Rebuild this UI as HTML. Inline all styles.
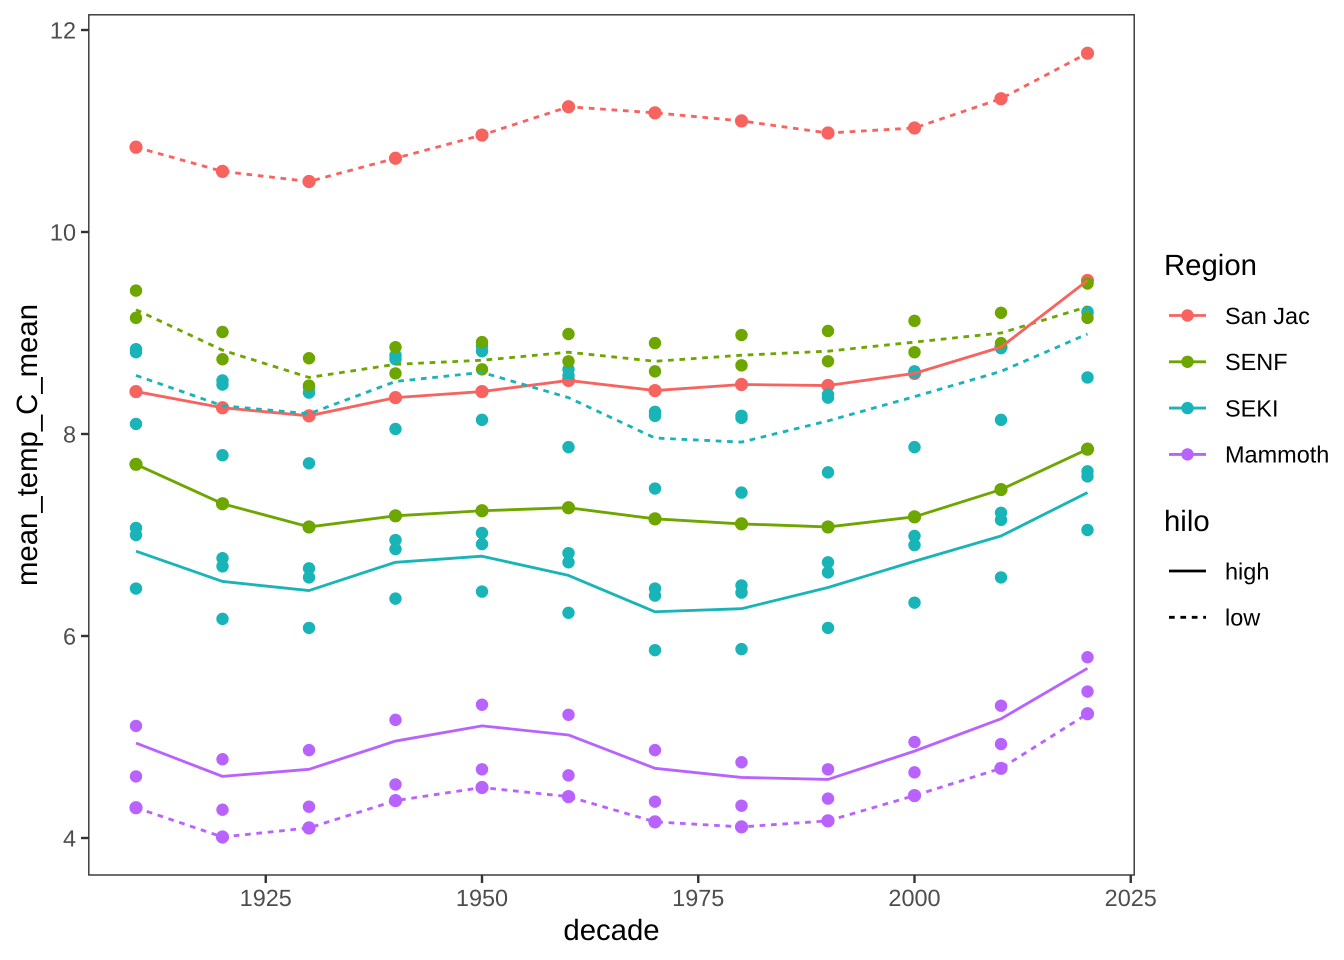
<!DOCTYPE html>
<html lang="en">
<head>
<meta charset="utf-8">
<title>mean_temp_C_mean by decade</title>
<style>
  html, body { margin: 0; padding: 0; background: #fff; }
  svg { display: block; font-family: "Liberation Sans", Arial, sans-serif; text-rendering: geometricPrecision; }
</style>
</head>
<body>
<svg id="chart" xmlns="http://www.w3.org/2000/svg" width="1344" height="960" viewBox="0 0 1344 960">
  <rect x="0" y="0" width="1344" height="960" fill="#ffffff"/>
  <g id="ticks"></g>
  <g id="marks"></g>
  <rect x="88.8" y="14.8" width="1045.4" height="860.2" fill="none" stroke="#333333" stroke-width="1.42"/>
  <text x="611.5" y="940" font-size="29.33" text-anchor="middle" fill="#000">decade</text>
  <text transform="translate(37 445) rotate(-90)" font-size="29.33" text-anchor="middle" fill="#000">mean_temp_C_mean</text>
  <g id="legend">
    <text x="1164" y="275" font-size="29.33" fill="#000">Region</text>
    <text x="1164" y="531" font-size="29.33" fill="#000">hilo</text>
  </g>
</svg>
<script>
const SVGNS = 'http://www.w3.org/2000/svg';

// ---- data ----
const decades = [1910,1920,1930,1940,1950,1960,1970,1980,1990,2000,2010,2020];
const xTicks = [1925,1950,1975,2000,2025];
const yTicks = [4,6,8,10,12];
const regions = ['San Jac','SENF','SEKI','Mammoth'];
const hiloLabels = ['high','low'];

const sanJacHigh = [8.42,8.26,8.18,8.36,8.42,8.53,8.43,8.49,8.48,8.60,8.86,9.52];
const sanJacLow  = [10.84,10.60,10.50,10.73,10.96,11.24,11.18,11.10,10.98,11.03,11.32,11.77];

const senfHigh    = [7.70,7.31,7.08,7.19,7.24,7.27,7.16,7.11,7.08,7.18,7.45,7.85];
const senfLowMean = [9.23,8.83,8.56,8.69,8.73,8.81,8.72,8.78,8.82,8.91,9.00,9.26];
const senfPointsA = [9.42,9.01,8.75,8.86,8.91,8.99,8.90,8.98,9.02,9.12,9.20,9.49];
const senfPointsB = [9.15,8.74,8.48,8.60,8.64,8.72,8.62,8.68,8.72,8.81,8.90,9.15];

const sekiHighMean = [6.84,6.54,6.45,6.73,6.79,6.60,6.24,6.27,6.48,6.74,6.99,7.42];
const sekiLowMean  = [8.58,8.28,8.20,8.52,8.61,8.36,7.96,7.92,8.13,8.37,8.62,8.99];
const sekiPointsA = [8.84,8.53,8.46,8.78,8.87,8.64,8.22,8.18,8.39,8.62,8.86,9.21];
const sekiPointsB = [8.81,8.49,8.41,8.74,8.82,8.58,8.18,8.16,8.36,8.61,8.85,9.20];
const sekiPointsC = [8.10,7.79,7.71,8.05,8.14,7.87,7.46,7.42,7.62,7.87,8.14,8.56];
const sekiPointsD = [7.07,6.77,6.67,6.95,7.02,6.82,6.47,6.50,6.73,6.99,7.22,7.63];
const sekiPointsE = [7.00,6.69,6.58,6.86,6.91,6.73,6.40,6.43,6.63,6.90,7.15,7.58];
const sekiPointsF = [6.47,6.17,6.08,6.37,6.44,6.23,5.86,5.87,6.08,6.33,6.58,7.05];

const mammothHighMean = [4.94,4.61,4.68,4.96,5.11,5.02,4.69,4.60,4.58,4.86,5.18,5.68];
const mammothLow      = [4.30,4.01,4.10,4.37,4.50,4.41,4.16,4.11,4.17,4.42,4.69,5.23];
const mammothPointsA  = [5.11,4.78,4.87,5.17,5.32,5.22,4.87,4.75,4.68,4.95,5.31,5.79];
const mammothPointsB  = [4.61,4.28,4.31,4.53,4.68,4.62,4.36,4.32,4.39,4.65,4.93,5.45];

// ---- scales ----
function xScale(v) { return 136 + (v - 1910) * 8.65; }
function yScale(v) { return 838 - (v - 4) * 101; }

const RED = '#F7635F', GREEN = '#6EA600', TEAL = '#18B4B8', PURPLE = '#B963FF';
const marks = document.getElementById('marks');
const ticks = document.getElementById('ticks');
const legend = document.getElementById('legend');

function drawPoints(values, color, r) {
  values.forEach(function (v, i) {
    const c = document.createElementNS(SVGNS, 'circle');
    
    
    c.setAttribute('cx', xScale(decades[i]));
    c.setAttribute('cy', yScale(v));
    c.setAttribute('r', r);
    c.setAttribute('fill', color);
    marks.appendChild(c);
  });
}

function drawLine(values, color, dashed) {
  const p = document.createElementNS(SVGNS, 'polyline');
  
  
  p.setAttribute('points', values.map(function (v, i) { return xScale(decades[i]) + ',' + yScale(v); }).join(' '));
  p.setAttribute('fill', 'none');
  p.setAttribute('stroke', color);
  p.setAttribute('stroke-width', '2.85');
  p.setAttribute('stroke-linejoin', 'round');
  if (dashed) p.setAttribute('stroke-dasharray', '5.7 5.7');
  marks.appendChild(p);
}

// ---- points (underneath the lines) ----
drawPoints(sanJacHigh, RED, 6.6);
drawPoints(sanJacLow, RED, 6.6);
[sekiPointsA, sekiPointsB, sekiPointsC, sekiPointsD, sekiPointsE, sekiPointsF].forEach(function (s) { drawPoints(s, TEAL, 6.2); });
[senfPointsA, senfPointsB].forEach(function (s) { drawPoints(s, GREEN, 6.2); });
drawPoints(senfHigh, GREEN, 6.6);
[mammothPointsA, mammothPointsB].forEach(function (s) { drawPoints(s, PURPLE, 6.2); });
drawPoints(mammothLow, PURPLE, 6.6);

// ---- lines ----
drawLine(sanJacLow, RED, true);
drawLine(senfLowMean, GREEN, true);
drawLine(senfHigh, GREEN, false);
drawLine(sanJacHigh, RED, false);
drawLine(sekiLowMean, TEAL, true);
drawLine(sekiHighMean, TEAL, false);
drawLine(mammothLow, PURPLE, true);
drawLine(mammothHighMean, PURPLE, false);

// ---- axes ----
xTicks.forEach(function (t) {
  const x = xScale(t);
  const m = document.createElementNS(SVGNS, 'line');
  
  
  m.setAttribute('x1', x); m.setAttribute('x2', x);
  m.setAttribute('y1', 875); m.setAttribute('y2', 883);
  m.setAttribute('stroke', '#333333'); m.setAttribute('stroke-width', '2.4');
  ticks.appendChild(m);
  const l = document.createElementNS(SVGNS, 'text');
  
  
  l.setAttribute('x', x); l.setAttribute('y', 906);
  l.setAttribute('font-size', '23.47');
  l.setAttribute('text-anchor', 'middle');
  l.setAttribute('fill', '#4D4D4D');
  l.textContent = t;
  ticks.appendChild(l);
});
yTicks.forEach(function (t) {
  const y = yScale(t);
  const m = document.createElementNS(SVGNS, 'line');
  
  
  m.setAttribute('x1', 81); m.setAttribute('x2', 89);
  m.setAttribute('y1', y); m.setAttribute('y2', y);
  m.setAttribute('stroke', '#333333'); m.setAttribute('stroke-width', '2.4');
  ticks.appendChild(m);
  const l = document.createElementNS(SVGNS, 'text');
  
  
  l.setAttribute('x', 76); l.setAttribute('y', y + 8.4);
  l.setAttribute('font-size', '23.47');
  l.setAttribute('text-anchor', 'end');
  l.setAttribute('fill', '#4D4D4D');
  l.textContent = t;
  ticks.appendChild(l);
});

// ---- legend ----
function legendLabel(text, y) {
  const l = document.createElementNS(SVGNS, 'text');
  
  
  l.setAttribute('x', 1225); l.setAttribute('y', y + 8.3);
  l.setAttribute('font-size', '23.47');
  l.setAttribute('fill', '#000');
  l.textContent = text;
  legend.appendChild(l);
}
function legendLine(y, color, dashed) {
  const k = document.createElementNS(SVGNS, 'line');
  
  
  k.setAttribute('x1', 1169); k.setAttribute('x2', 1206);
  k.setAttribute('y1', y); k.setAttribute('y2', y);
  k.setAttribute('stroke', color); k.setAttribute('stroke-width', '2.85');
  if (dashed) k.setAttribute('stroke-dasharray', '5.7 5.7');
  legend.appendChild(k);
}
const regionColors = [RED, GREEN, TEAL, PURPLE];
regions.forEach(function (name, i) {
  const y = 315.5 + i * 46.3;
  legendLine(y, regionColors[i], false);
  const d = document.createElementNS(SVGNS, 'circle');
  
  
  d.setAttribute('cx', 1187.5); d.setAttribute('cy', y); d.setAttribute('r', 6.2);
  d.setAttribute('fill', regionColors[i]);
  legend.appendChild(d);
  legendLabel(name, y);
});
hiloLabels.forEach(function (name, i) {
  const y = 571 + i * 46.3;
  legendLine(y, '#000000', i === 1);
  legendLabel(name, y);
});
</script>
</body>
</html>
